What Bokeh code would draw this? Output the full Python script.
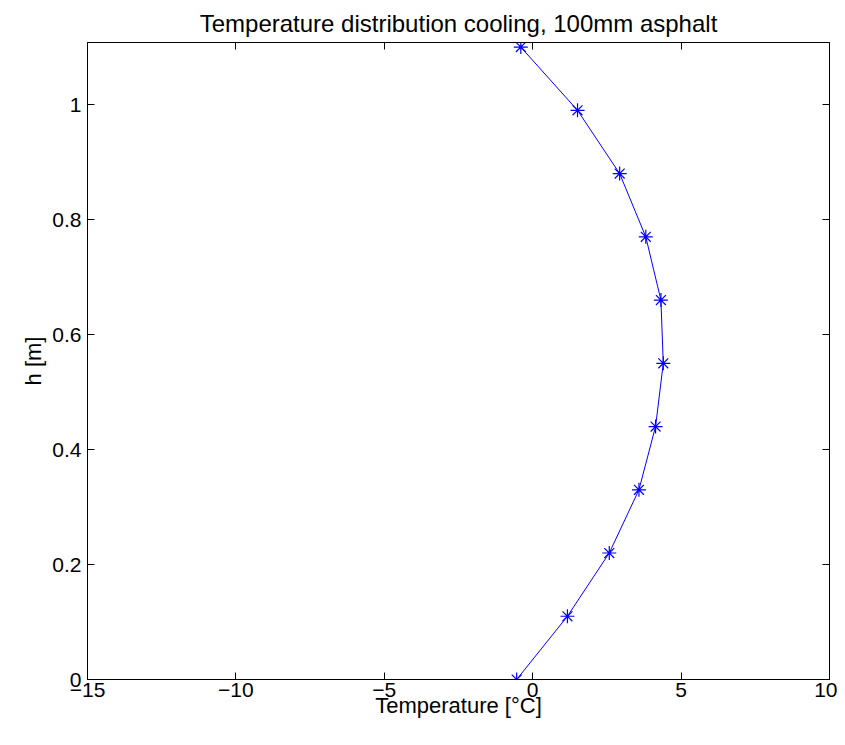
from bokeh.plotting import figure
from bokeh.models import Range1d, LinearAxis, FixedTicker, CustomJSTickFormatter
from bokeh.embed import file_html
from bokeh.resources import INLINE

# data
height_m = [0.0, 0.11, 0.22, 0.33, 0.44, 0.55, 0.66, 0.77, 0.88, 0.99, 1.10]
temperature_c = [-0.54, 1.17, 2.58, 3.58, 4.14, 4.40, 4.32, 3.81, 2.93, 1.51, -0.40]
x_ticks = [-15, -10, -5, 0, 5, 10]
y_ticks = [0, 0.2, 0.4, 0.6, 0.8, 1.0]

FONT = "Liberation Sans"

p = figure(width=837, height=737, output_backend="svg", toolbar_location=None,
           x_range=Range1d(-15, 10), y_range=Range1d(0, 1.108),
           min_border_left=87, min_border_right=8, min_border_top=42, min_border_bottom=58,
           title="Temperature distribution cooling, 100mm asphalt")

p.title.align = "center"
p.title.text_font = FONT
p.title.text_font_size = "24px"
p.title.text_font_style = "normal"
p.title.text_color = "black"
p.title.text_line_height = 0.8
p.title.standoff = 12

p.xgrid.visible = False
p.ygrid.visible = False
p.outline_line_color = "black"
p.outline_line_width = 1
p.background_fill_color = "white"
p.border_fill_color = "white"

xfmt = CustomJSTickFormatter(code="return tick < 0 ? '\u2212' + Math.abs(tick) : tick.toString();")
yfmt = CustomJSTickFormatter(code="return tick.toString();")
blank = CustomJSTickFormatter(code="return '';")

def style(ax):
    ax.axis_line_color = "black"
    ax.major_tick_line_color = "black"
    ax.major_tick_in = 7
    ax.major_tick_out = 0
    ax.minor_tick_line_color = None
    ax.major_label_text_font = FONT
    ax.major_label_text_font_size = "21px"
    ax.major_label_text_color = "black"
    ax.axis_label_text_font = FONT
    ax.axis_label_text_font_size = "22px"
    ax.axis_label_text_font_style = "normal"
    ax.axis_label_text_color = "black"

xa = p.xaxis[0]
xa.ticker = FixedTicker(ticks=x_ticks)
xa.formatter = xfmt
xa.axis_label = "Temperature [°C]"
style(xa)
xa.major_label_standoff = 3
xa.axis_label_standoff = -7

ya = p.yaxis[0]
ya.ticker = FixedTicker(ticks=y_ticks)
ya.formatter = yfmt
ya.axis_label = "h [m]"
style(ya)
ya.major_label_standoff = 6
ya.axis_label_standoff = 3

top = LinearAxis(ticker=FixedTicker(ticks=x_ticks), formatter=blank)
style(top)
top.major_label_standoff = 0
p.add_layout(top, "above")
right = LinearAxis(ticker=FixedTicker(ticks=y_ticks), formatter=blank)
style(right)
right.major_label_standoff = 0
p.add_layout(right, "right")

p.line(temperature_c, height_m, line_color="#0000ff", line_width=1)
p.scatter(temperature_c, height_m, marker="asterisk", size=14, line_color="#0000ff", line_width=1.2)

open("out.html", "w").write(file_html(p, INLINE))
